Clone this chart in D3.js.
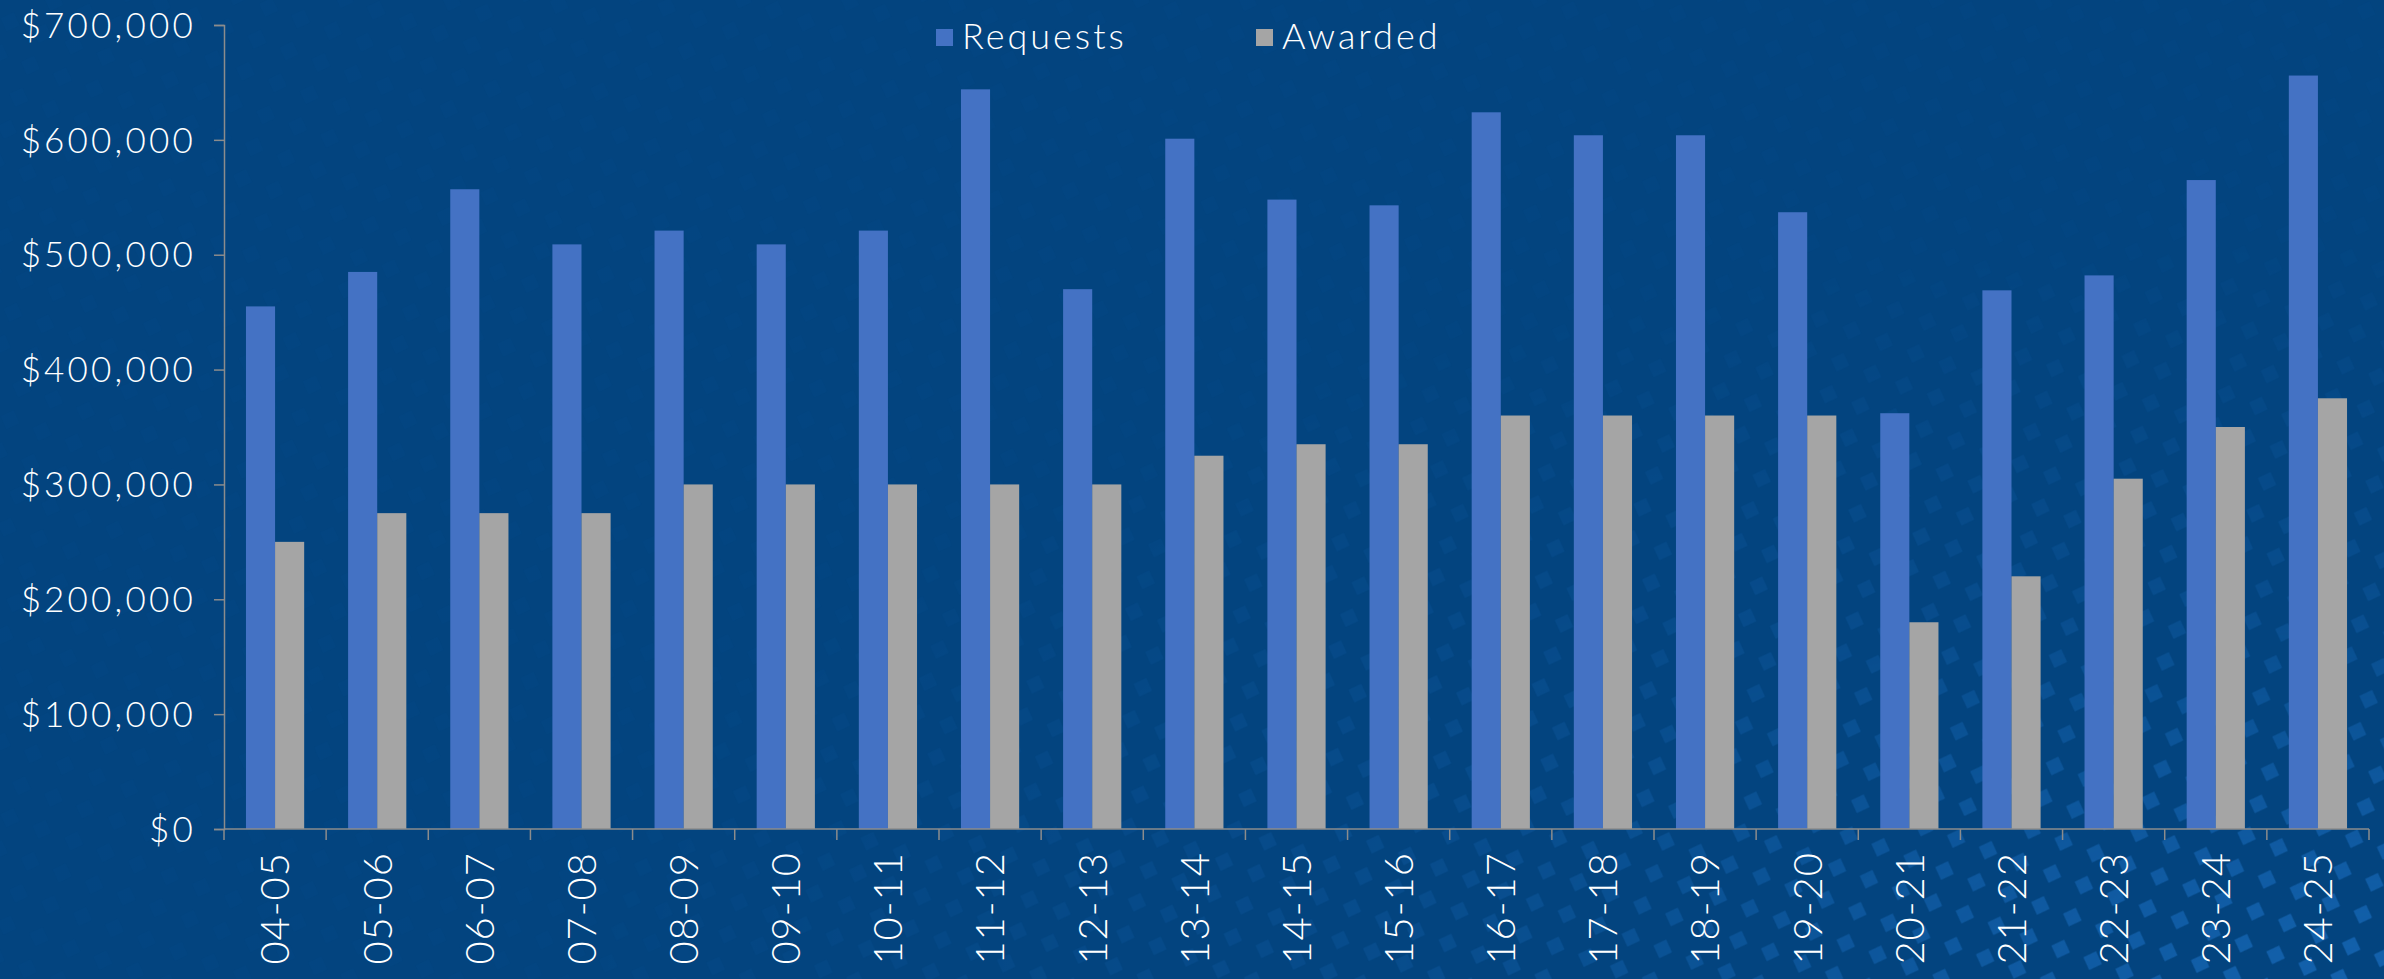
<!DOCTYPE html>
<html>
<head>
<meta charset="utf-8">
<script src="https://cdn.jsdelivr.net/npm/d3@7"></script>
<style>
  html, body { margin: 0; padding: 0; background: #03447f; }
  svg { display: block; }
</style>
</head>
<body>
<div id="chart"></div>
<script>
// Data ////////////////////////////////////////////////////////////////
const years    = ['04-05','05-06','06-07','07-08','08-09','09-10','10-11','11-12','12-13','13-14','14-15',
                  '15-16','16-17','17-18','18-19','19-20','20-21','21-22','22-23','23-24','24-25'];
const requests = [455000, 485000, 557000, 509000, 521000, 509000, 521000, 644000, 470000, 601000, 548000,
                  543000, 624000, 604000, 604000, 537000, 362000, 469000, 482000, 565000, 656000];
const awarded  = [250000, 275000, 275000, 275000, 300000, 300000, 300000, 300000, 300000, 325000, 335000,
                  335000, 360000, 360000, 360000, 360000, 180000, 220000, 305000, 350000, 375000];
const series   = ['Requests', 'Awarded'];
const yTicks   = [0, 100000, 200000, 300000, 400000, 500000, 600000, 700000];

const width = 2384, height = 979;
const colors = { Requests: '#4472c4', Awarded: '#a5a5a5' };
const font = 'Lato, "Open Sans", sans-serif';

// SVG setup ////////////////////////////////////////////////////////////
const svg = d3.select('#chart').append('svg')
  .attr('width', width)
  .attr('height', height)
  .attr('viewBox', [0, 0, width, height]);

const defs = svg.append('defs');

// fondo: diamantes suaves abajo a la derecha
const pat = defs.append('pattern')
  .attr('id', 'diamonds')
  .attr('patternUnits', 'userSpaceOnUse')
  .attr('width', 34).attr('height', 34)
  .attr('patternTransform', 'rotate(20)');
pat.append('rect')
  .attr('x', 10).attr('y', 10).attr('width', 14).attr('height', 14)
  .attr('transform', 'rotate(45 17 17)')
  .attr('fill', '#1767b5');

const grad = defs.append('radialGradient')
  .attr('id', 'fade')
  .attr('cx', 1).attr('cy', 1).attr('r', 0.75);
grad.append('stop').attr('offset', 0).attr('stop-color', '#fff').attr('stop-opacity', 0.85);
grad.append('stop').attr('offset', 0.55).attr('stop-color', '#fff').attr('stop-opacity', 0.25);
grad.append('stop').attr('offset', 1).attr('stop-color', '#fff').attr('stop-opacity', 0.05);

const mask = defs.append('mask').attr('id', 'fade-mask');
mask.append('rect').attr('width', width).attr('height', height).attr('fill', 'url(#fade)');

svg.append('rect').attr('width', width).attr('height', height).attr('fill', '#03447f');
svg.append('rect').attr('width', width).attr('height', height)
  .attr('fill', 'url(#diamonds)').attr('mask', 'url(#fade-mask)');

// Scales ///////////////////////////////////////////////////////////////
const x0 = 224, x1 = 2369, yTop = 25, yBase = 829;

const x = d3.scaleBand().domain(years).range([x0, x1]).paddingInner(0.43).paddingOuter(0.215);
const xs = d3.scaleBand().domain(series).range([0, x.bandwidth()]);
const y = d3.scaleLinear().domain([0, 700000]).range([yBase, yTop]);

// Bars ////////////////////////////////////////////////////////////////
const rows = years.map((yr, i) => ({ yr, values: [
  { key: 'Requests', v: requests[i] },
  { key: 'Awarded',  v: awarded[i] }
]}));

svg.append('g').attr('id', 'bars')
  .selectAll('g')
  .data(rows)
  .join('g')
  .attr('transform', d => `translate(${x(d.yr)},0)`)
  .selectAll('rect')
  .data(d => d.values)
  .join('rect')
  .attr('x', d => xs(d.key))
  .attr('y', d => y(d.v))
  .attr('width', xs.bandwidth())
  .attr('height', d => yBase - y(d.v))
  .attr('fill', d => colors[d.key]);

// Axes ////////////////////////////////////////////////////////////////
const yAxis = svg.append('g')
  .attr('transform', `translate(${x0},0)`)
  .call(d3.axisLeft(y).tickValues(yTicks).tickSize(10).tickPadding(18)
    .tickFormat(d => '$' + d3.format(',')(d)));

const xAxis = svg.append('g')
  .attr('transform', `translate(0,${yBase})`)
  .call(d3.axisBottom(x).tickSize(0).tickPadding(0));

// ticks entre categorías
svg.append('g').selectAll('line')
  .data(d3.range(years.length + 1))
  .join('line')
  .attr('x1', i => x0 + i * x.step())
  .attr('x2', i => x0 + i * x.step())
  .attr('y1', yBase).attr('y2', yBase + 11)
  .attr('stroke', '#8c8c8c').attr('stroke-width', 1.5);

[yAxis, xAxis].forEach(a => {
  a.select('.domain').attr('stroke', '#8c8c8c').attr('stroke-width', 1.5);
  a.selectAll('.tick line').attr('stroke', '#8c8c8c').attr('stroke-width', 1.5);
  a.selectAll('text').attr('fill', '#fff').attr('font-family', font).attr('font-weight', 300);
});
xAxis.select('.domain').attr('d', `M${x0},0H${x1}`);

yAxis.selectAll('text')
  .attr('dy', '0.35em')
  .attr('font-size', 35)
  .attr('letter-spacing', 3.2);

xAxis.selectAll('.tick text')
  .attr('transform', 'rotate(-90)')
  .attr('text-anchor', 'end')
  .attr('x', -23)
  .attr('y', 0)
  .attr('dy', '0.36em')
  .attr('font-size', 40)
  .attr('letter-spacing', 1);

// Legend //////////////////////////////////////////////////////////////
const legend = svg.append('g').attr('id', 'legend')
  .selectAll('g')
  .data(series)
  .join('g')
  .attr('transform', (d, i) => `translate(${[936, 1256][i]},29)`);

legend.append('rect')
  .attr('width', 17).attr('height', 17)
  .attr('fill', d => colors[d]);

legend.append('text')
  .attr('x', 26).attr('y', 20)
  .attr('fill', '#fff')
  .attr('font-family', font)
  .attr('font-weight', 300)
  .attr('font-size', 36)
  .attr('letter-spacing', 3)
  .text(d => d);
</script>
</body>
</html>
